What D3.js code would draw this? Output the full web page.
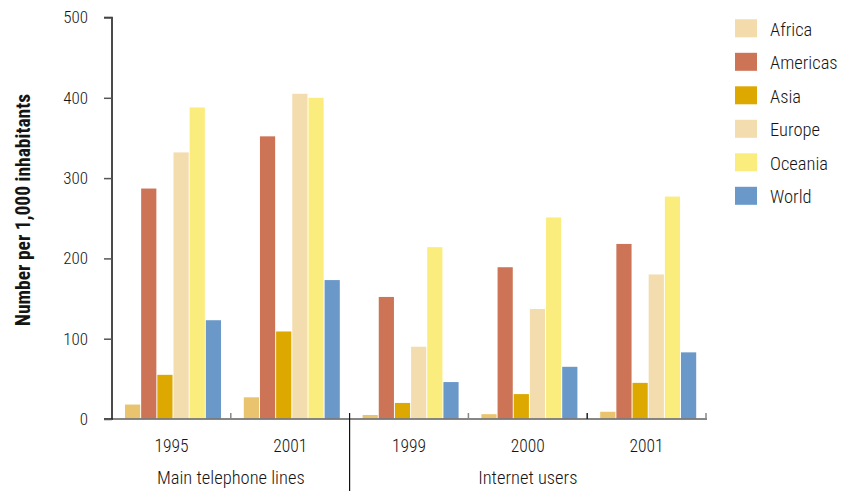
<!DOCTYPE html>
<html><head><meta charset="utf-8">
<script src="https://cdn.jsdelivr.net/npm/d3@7"></script>
<style>
body{margin:0;background:#fff;}
text{font-family:"Roboto Condensed","Liberation Sans Narrow","Arial Narrow",sans-serif;fill:#151515;font-weight:300;}
</style></head><body>
<svg id="chart" width="842" height="491"></svg>
<script>
const groups = ["1995","2001","1999","2000","2001 "];
const groupLabels = ["1995","2001","1999","2000","2001"];
const sections = ["Main telephone lines","Internet users"];
const sectionSizes = [2,3];
const series = ["Africa","Americas","Asia","Europe","Oceania","World"];
const Africa   = [18, 27, 5, 6, 9];
const Americas = [287, 352, 152, 189, 218];
const Asia     = [55, 109, 20, 31, 45];
const Europe   = [332, 405, 90, 137, 180];
const Oceania  = [388, 400, 214, 251, 277];
const World    = [123, 173, 46, 65, 83];
const yTicks = [0,100,200,300,400,500];
const barColors = ["#E9C36E","#CC7455","#DDA800","#F3DCAD","#FBEC7E","#6A98C8"];
const legendColors = ["#F3DBAC","#CC7455","#DDA800","#F3DCAD","#FBEC7E","#6A98C8"];
const values = [Africa, Americas, Asia, Europe, Oceania, World];

const svg = d3.select("#chart");
const x0 = d3.scaleBand().domain(groups).range([112, 706]);
const x1 = d3.scaleBand().domain(series).range([13, 109]).paddingInner(0.06);
const y = d3.scaleLinear().domain([0,500]).range([419, 17.5]);

// bars
groups.forEach((g, gi) => {
  series.forEach((s, si) => {
    svg.append("rect")
      .attr("x", x0(g) + x1(s))
      .attr("y", y(values[si][gi]))
      .attr("width", x1.bandwidth())
      .attr("height", y(0) - y(values[si][gi]))
      .attr("fill", barColors[si]);
  });
});

// x axis line
svg.append("line").attr("x1",112).attr("x2",707).attr("y1",y(0)).attr("y2",y(0))
  .attr("stroke","#7a7a7a").attr("stroke-width",2).attr("opacity",0.9);
// group ticks
groups.forEach((g, gi) => {
  const xe = x0(g) + x0.bandwidth();
  if (gi === 1) return;
  svg.append("line").attr("x1",xe).attr("x2",xe).attr("y1",y(0)-6).attr("y2",y(0))
    .attr("stroke", gi===3 ? "#222" : "#888").attr("stroke-width",1.5);
});
// section separator
const sepX = x0(groups[1]) + x0.bandwidth();
svg.append("line").attr("x1",sepX).attr("x2",sepX).attr("y1",y(0)-6).attr("y2",491)
  .attr("stroke","#111").attr("stroke-width",1.2);

// y axis
const yAxis = d3.axisLeft(y).tickValues(yTicks).tickSize(8).tickPadding(16);
const ya = svg.append("g").attr("transform","translate(112,0)").call(yAxis);
ya.select(".domain").attr("stroke","#111").attr("stroke-width",1.5).attr("d","M-8,17.5H0V419H-8");
ya.selectAll(".tick line").attr("stroke","#555").attr("stroke-width",1.5);
ya.selectAll(".tick text").attr("font-size",17).attr("fill","#151515")
  .style("font-family",'"Roboto Condensed","Liberation Sans Narrow",sans-serif').style("font-weight",300);

// group labels
groups.forEach((g, gi) => {
  svg.append("text").attr("x", x0(g)+x0.bandwidth()/2).attr("y", 451.5)
    .attr("text-anchor","middle").attr("font-size",17.5).text(groupLabels[gi]);
});
// section labels
let start = 0;
sections.forEach((s, i) => {
  const a = x0(groups[start]);
  const b = x0(groups[start+sectionSizes[i]-1]) + x0.bandwidth();
  svg.append("text").attr("x",(a+b)/2).attr("y",484).attr("text-anchor","middle")
    .attr("font-size",18.5).text(s);
  start += sectionSizes[i];
});

// y label
svg.append("text").attr("transform","translate(29.5,210) rotate(-90)")
  .attr("text-anchor","middle").attr("font-size",19.5).style("font-weight","bold")
  .attr("fill","#111").text("Number per 1,000 inhabitants");

// legend
const lg = svg.append("g");
series.forEach((s, i) => {
  const ty = 19.3 + i*33.5;
  lg.append("rect").attr("x",735).attr("y",ty).attr("width",22).attr("height",18).attr("fill",legendColors[i]);
  lg.append("text").attr("x",770).attr("y",ty+16.5).attr("font-size",18.5).text(s);
});
</script></body></html>
